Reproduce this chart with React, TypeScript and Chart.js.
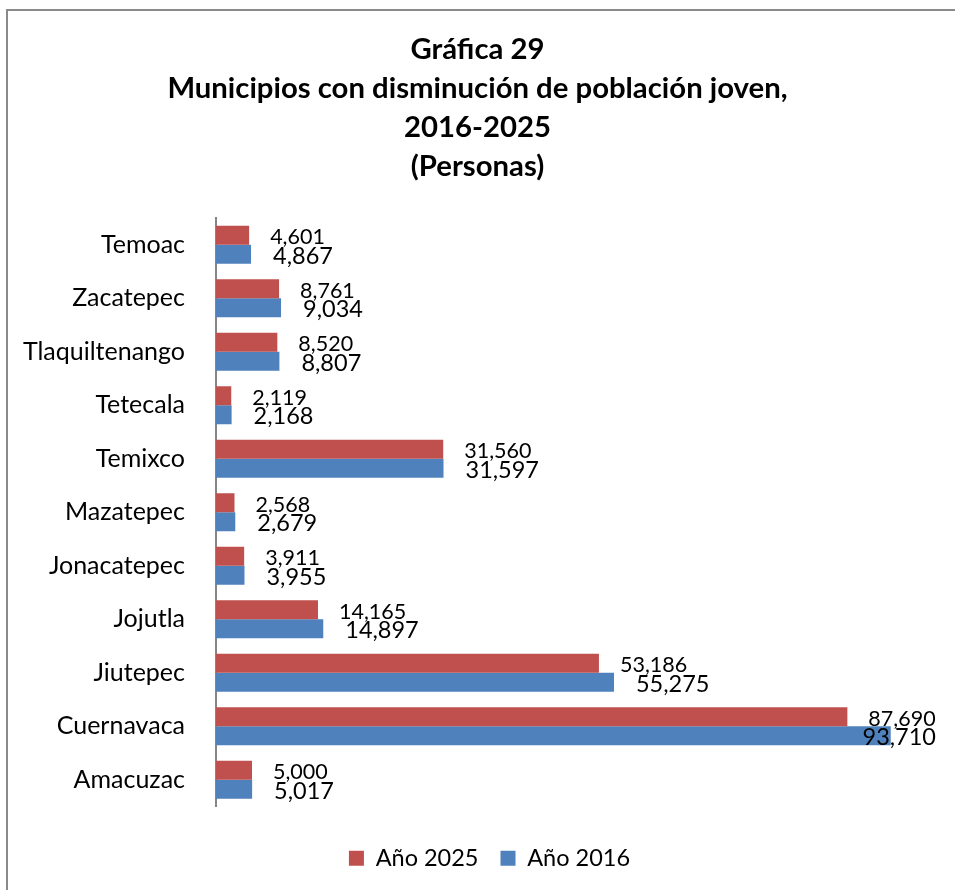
import React, { useEffect, useRef } from "react";
import { Chart, registerables } from "chart.js";

Chart.register(...registerables);

const titleLines = [
  "Gráfica 29",
  "Municipios con disminución de población joven,",
  "2016-2025",
  "(Personas)",
];
const categories = [
  "Temoac",
  "Zacatepec",
  "Tlaquiltenango",
  "Tetecala",
  "Temixco",
  "Mazatepec",
  "Jonacatepec",
  "Jojutla",
  "Jiutepec",
  "Cuernavaca",
  "Amacuzac",
];
const series2025 = [4601, 8761, 8520, 2119, 31560, 2568, 3911, 14165, 53186, 87690, 5000];
const series2016 = [4867, 9034, 8807, 2168, 31597, 2679, 3955, 14897, 55275, 93710, 5017];
const seriesNames = ["Año 2025", "Año 2016"];

const FONT = "Lato, 'Noto Sans', sans-serif";
const RED = "#C0504D";
const BLUE = "#4F81BD";

const framePlugin = {
  id: "frame",
  beforeDraw(chart: any) {
    const { ctx, width, height } = chart;
    ctx.save();
    ctx.fillStyle = "#ffffff";
    ctx.fillRect(0, 0, width, height);
    ctx.strokeStyle = "#8a8a8a";
    ctx.lineWidth = 2;
    ctx.strokeRect(7, 10, width + 20, height + 20);
    ctx.restore();
  },
};

const legendShiftPlugin = {
  id: "legendShift",
  afterLayout(chart: any) {
    if (chart.legend) {
      chart.legend.left += 12;
      chart.legend.right += 12;
    }
  },
};

const labelPlugin = {
  id: "barLabels",
  afterDatasetsDraw(chart: any) {
    const { ctx } = chart;
    const sizes = [21.5, 23.5];
    const offsets = [21, 22];
    chart.data.datasets.forEach((ds: any, di: number) => {
      const meta = chart.getDatasetMeta(di);
      ctx.save();
      ctx.font = `${sizes[di]}px ${FONT}`;
      ctx.fillStyle = "#000000";
      ctx.textAlign = "left";
      ctx.textBaseline = "middle";
      meta.data.forEach((el: any, i: number) => {
        const v = ds.data[i] as number;
        const txt = v.toLocaleString("en-US");
        const w = ctx.measureText(txt).width;
        let x = el.x + offsets[di];
        if (x + w > 936) x = 936 - w;
        ctx.fillText(txt, x, el.y + 2);
      });
      ctx.restore();
    });
  },
};

export default function App() {
  const ref = useRef<HTMLCanvasElement | null>(null);
  useEffect(() => {
    if (!ref.current) return;
    const chart = new Chart(ref.current, {
      type: "bar",
      data: {
        labels: categories,
        datasets: [
          { label: seriesNames[0], data: series2025, backgroundColor: RED },
          { label: seriesNames[1], data: series2016, backgroundColor: BLUE },
        ],
      },
      options: {
        indexAxis: "y",
        responsive: false,
        animation: false,
        categoryPercentage: 0.71,
        barPercentage: 1,
        layout: { padding: { left: 19, right: 19, top: 0, bottom: 10 } },
        scales: {
          x: {
            min: 0,
            max: 100000,
            display: true,
            ticks: { display: false },
            grid: { display: false, drawTicks: false },
            border: { display: false },
            afterFit: (s: any) => {
              s.height = 18;
            },
          },
          y: {
            grid: { display: false, drawTicks: false },
            border: { display: true, color: "#868686", width: 2 },
            ticks: {
              padding: 31,
              color: "#000000",
              font: { family: FONT, size: 25 },
            },
            afterFit: (s: any) => {
              s.width = 197;
            },
          },
        },
        plugins: {
          title: {
            display: true,
            text: titleLines,
            color: "#000000",
            font: { family: FONT, size: 29.3, weight: "bold", lineHeight: 39 / 29.3 },
            padding: { top: 30, bottom: 32 },
          },
          legend: {
            position: "bottom",
            labels: {
              boxWidth: 15,
              boxHeight: 15,
              padding: 22,
              color: "#000000",
              font: { family: FONT, size: 23.5 },
            },
          },
          tooltip: { enabled: false },
        },
      },
      plugins: [framePlugin, legendShiftPlugin, labelPlugin],
    });
    return () => chart.destroy();
  }, []);
  return (
    <div style={{ position: "absolute", left: 0, top: 0, width: 955, height: 890 }}>
      <canvas ref={ref} width={955} height={890} />
    </div>
  );
}
